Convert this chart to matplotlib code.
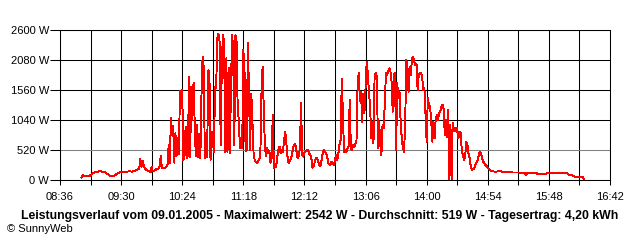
import matplotlib
matplotlib.use('Agg')
import matplotlib.pyplot as plt

# readings, sparse where the curve is smooth
early_times = ["08:55", "08:56", "08:58", "09:00", "09:02", "09:04", "09:06", "09:08", "09:11", "09:14",
               "09:16", "09:18", "09:20", "09:22", "09:24", "09:26", "09:28", "09:31", "09:34", "09:37",
               "09:40", "09:42", "09:44", "09:45", "09:46", "09:47", "09:48", "09:49", "09:50", "09:51",
               "09:52", "09:54", "09:56", "09:57", "09:58", "10:00", "10:02", "10:03", "10:04", "10:05",
               "10:06", "10:08", "10:10"]
early_watts = [45, 85, 70, 75, 70, 100, 125, 140, 150, 145,
               130, 105, 70, 65, 80, 100, 125, 145, 140, 150,
               145, 160, 175, 200, 190, 360, 230, 330, 260, 200,
               180, 160, 130, 230, 150, 170, 200, 190, 230, 420,
               210, 200, 230]

# one reading per minute, 10:11 .. 14:56
mid_times = [
    "10:11", "10:12", "10:13", "10:14", "10:15", "10:16", "10:17", "10:18", "10:19", "10:20",
    "10:21", "10:22", "10:23", "10:24", "10:25", "10:26", "10:27", "10:28", "10:29", "10:30",
    "10:31", "10:32", "10:33", "10:34", "10:35", "10:36", "10:37", "10:38", "10:39", "10:40",
    "10:41", "10:42", "10:43", "10:44", "10:45", "10:46", "10:47", "10:48", "10:49", "10:50",
    "10:51", "10:52", "10:53", "10:54", "10:55", "10:56", "10:57", "10:58", "10:59", "11:00",
    "11:01", "11:02", "11:03", "11:04", "11:05", "11:06", "11:07", "11:08", "11:09", "11:10",
    "11:11", "11:12", "11:13", "11:14", "11:15", "11:16", "11:17", "11:18", "11:19", "11:20",
    "11:21", "11:22", "11:23", "11:24", "11:25", "11:26", "11:27", "11:28", "11:29", "11:30",
    "11:31", "11:32", "11:33", "11:34", "11:35", "11:36", "11:37", "11:38", "11:39", "11:40",
    "11:41", "11:42", "11:43", "11:44", "11:45", "11:46", "11:47", "11:48", "11:49", "11:50",
    "11:51", "11:52", "11:53", "11:54", "11:55", "11:56", "11:57", "11:58", "11:59", "12:00",
    "12:01", "12:02", "12:03", "12:04", "12:05", "12:06", "12:07", "12:08", "12:09", "12:10",
    "12:11", "12:12", "12:13", "12:14", "12:15", "12:16", "12:17", "12:18", "12:19", "12:20",
    "12:21", "12:22", "12:23", "12:24", "12:25", "12:26", "12:27", "12:28", "12:29", "12:30",
    "12:31", "12:32", "12:33", "12:34", "12:35", "12:36", "12:37", "12:38", "12:39", "12:40",
    "12:41", "12:42", "12:43", "12:44", "12:45", "12:46", "12:47", "12:48", "12:49", "12:50",
    "12:51", "12:52", "12:53", "12:54", "12:55", "12:56", "12:57", "12:58", "12:59", "13:00",
    "13:01", "13:02", "13:03", "13:04", "13:05", "13:06", "13:07", "13:08", "13:09", "13:10",
    "13:11", "13:12", "13:13", "13:14", "13:15", "13:16", "13:17", "13:18", "13:19", "13:20",
    "13:21", "13:22", "13:23", "13:24", "13:25", "13:26", "13:27", "13:28", "13:29", "13:30",
    "13:31", "13:32", "13:33", "13:34", "13:35", "13:36", "13:37", "13:38", "13:39", "13:40",
    "13:41", "13:42", "13:43", "13:44", "13:45", "13:46", "13:47", "13:48", "13:49", "13:50",
    "13:51", "13:52", "13:53", "13:54", "13:55", "13:56", "13:57", "13:58", "13:59", "14:00",
    "14:01", "14:02", "14:03", "14:04", "14:05", "14:06", "14:07", "14:08", "14:09", "14:10",
    "14:11", "14:12", "14:13", "14:14", "14:15", "14:16", "14:17", "14:18", "14:19", "14:20",
    "14:21", "14:22", "14:23", "14:24", "14:25", "14:26", "14:27", "14:28", "14:29", "14:30",
    "14:31", "14:32", "14:33", "14:34", "14:35", "14:36", "14:37", "14:38", "14:39", "14:40",
    "14:41", "14:42", "14:43", "14:44", "14:45", "14:46", "14:47", "14:48", "14:49", "14:50",
    "14:51", "14:52", "14:53", "14:54", "14:55", "14:56"]
mid_watts = [
    260, 600, 300, 1070, 780, 930, 300, 810, 420, 730,
    450, 1540, 1250, 1560, 350, 400, 920, 380, 420, 1790,
    400, 1620, 1040, 1690, 990, 420, 950, 400, 800, 380,
    1450, 2140, 1950, 380, 700, 400, 1900, 1880, 340, 840,
    690, 480, 1620, 1600, 2460, 2540, 2400, 600, 2050, 2510,
    2400, 490, 2110, 480, 1940, 470, 1530, 2510, 2300, 600,
    2510, 2400, 1250, 1040, 560, 550, 560, 2250, 1940, 500,
    520, 2370, 1530, 520, 1500, 1040, 480, 345, 320, 290,
    330, 360, 400, 1480, 1960, 1250, 600, 410, 560, 460,
    510, 300, 375, 1125, 200, 260, 230, 405, 520, 575,
    460, 520, 490, 690, 840, 635, 405, 290, 330, 375,
    430, 560, 605, 620, 490, 375, 420, 550, 1330, 430,
    405, 480, 500, 520, 520, 470, 430, 400, 215, 230,
    300, 375, 380, 330, 260, 240, 330, 450, 520, 490,
    470, 420, 300, 270, 260, 320, 290, 260, 345, 430,
    340, 460, 620, 700, 1760, 1125, 480, 520, 490, 550,
    575, 1390, 550, 520, 600, 575, 630, 690, 1675, 1850,
    1360, 1530, 1010, 1500, 1160, 1590, 2050, 1850, 1500, 1300,
    720, 1010, 640, 1820, 1850, 1790, 555, 1010, 605, 430,
    955, 895, 1330, 1850, 1820, 1880, 1935, 1880, 1705, 1185,
    1820, 1850, 520, 1675, 1415, 1530, 1010, 720, 555, 490,
    955, 2080, 1965, 1530, 1965, 1820, 2110, 2140, 2050, 1990,
    2020, 1560, 1820, 1850, 1850, 1790, 1560, 1590, 1130, 665,
    1415, 1300, 1270, 1040, 665, 1010, 720, 1070, 1125, 1040,
    1155, 1185, 1270, 1300, 1240, 780, 1040, 750, 1210, 0,
    955, 0, 990, 840, 895, 840, 895, 720, 840, 810,
    520, 430, 345, 405, 665, 605, 460, 375, 230, 175,
    190, 200, 260, 300, 345, 430, 490, 460, 375, 320,
    290, 260, 240, 210, 190, 165]

late_times = ["15:00", "15:05", "15:11", "15:16", "15:22", "15:27", "15:28", "15:29", "15:31", "15:37",
              "15:38", "15:43", "15:45", "15:49", "15:58", "16:04", "16:06", "16:09", "16:11", "16:18",
              "16:19"]
late_watts = [145, 150, 135, 130, 130, 115, 85, 125, 120, 120,
              100, 100, 110, 120, 120, 115, 85, 80, 60, 60,
              0]

y_ticks = [0, 520, 1040, 1560, 2080, 2600]
x_tick_labels = ["08:36", "09:30", "10:24", "11:18", "12:12", "13:06", "14:00", "14:54", "15:48", "16:42"]

title = ("Leistungsverlauf vom 09.01.2005 - Maximalwert: 2542 W - Durchschnitt: 519 W"
         " - Tagesertrag: 4,20 kWh")


def to_min(s):
    h, m = s.split(":")
    return int(h) * 60 + int(m)


times = early_times + mid_times + late_times
watts = early_watts + mid_watts + late_watts
x = [to_min(t) for t in times]

plt.rcParams['font.family'] = ['Liberation Sans', 'DejaVu Sans']

fig = plt.figure(figsize=(6.4, 2.4), dpi=100)
ax = fig.add_axes([60 / 640, 1 - 180 / 240, 550 / 640, 150 / 240])

major = [to_min(t) for t in x_tick_labels]
minor = [m + 27 for m in major[:-1]]

ax.set_xlim(major[0], major[-1])
ax.set_ylim(0, 2600)
ax.set_xticks(major)
ax.set_xticklabels(x_tick_labels)
ax.set_xticks(minor, minor=True)
ax.set_yticks(y_ticks)
ax.set_yticklabels(["%d W" % v for v in y_ticks])

ax.grid(True, which='both', axis='x', color='black', lw=0.75)
ax.grid(True, which='major', axis='y', color='black', lw=0.75)
ax.yaxis.get_gridlines()[1].set_color('#808080')
ax.set_axisbelow(True)

ax.plot(x, watts, color='#ff0000', lw=0.68, antialiased=False, zorder=3)

for s in ax.spines.values():
    s.set_color('black')
    s.set_linewidth(0.75)

ax.tick_params(axis='x', which='both', length=3.6, width=0.75, color='black',
               labelsize=8, pad=5)
ax.tick_params(axis='y', length=7.2, width=0.75, color='black', labelsize=8, pad=0.8)
ax.yaxis.get_major_ticks()[1].tick1line.set_color('#808080')

fig.text(0.5, 1 - 216.5 / 240, title, ha='center', va='center', fontsize=8.8,
         fontweight='bold')
fig.text(7 / 640, 1 - 229 / 240, '\u00a9 SunnyWeb', ha='left', va='center', fontsize=8)

fig.savefig('out.png', dpi=100, facecolor='white')
